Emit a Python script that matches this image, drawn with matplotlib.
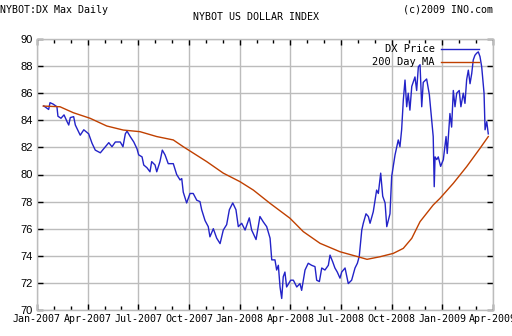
import numpy as np
import matplotlib
matplotlib.use("Agg")
import matplotlib.pyplot as plt
import matplotlib.ticker as ticker

# months since Jan-2007 (decimal) and price values
price_month = [0.40, 0.69, 0.77, 0.95, 1.18, 1.24, 1.42, 1.60, 1.78, 1.88, 1.97, 2.17, 2.27, 2.56, 2.77,
               3.06, 3.26, 3.45, 3.75, 3.95, 4.25, 4.44, 4.64, 4.93, 5.09, 5.23, 5.33, 5.52, 5.73, 5.92,
               6.02, 6.22, 6.32, 6.51, 6.69, 6.79, 6.99, 7.09, 7.28, 7.42, 7.58, 7.77, 8.07, 8.27, 8.47,
               8.57, 8.66, 8.86, 9.06, 9.25, 9.46, 9.65, 9.75, 9.95, 10.14, 10.24, 10.44, 10.64, 10.84,
               11.03, 11.23, 11.39, 11.59, 11.78, 11.92, 12.12, 12.32, 12.57, 12.71, 12.97, 13.20, 13.40,
               13.60, 13.80, 13.90, 14.09, 14.19, 14.29, 14.39, 14.49, 14.58, 14.68, 14.78, 15.02, 15.18,
               15.38, 15.57, 15.67, 15.77, 15.87, 16.06, 16.26, 16.46, 16.56, 16.72, 16.86, 17.05, 17.25,
               17.35, 17.51, 17.64, 17.78, 17.94, 18.04, 18.24, 18.43, 18.63, 18.83, 18.97, 19.08, 19.23,
               19.32, 19.48, 19.62, 19.72, 19.91, 20.11, 20.21, 20.35, 20.47, 20.61, 20.71, 20.90, 21.00,
               21.20, 21.39, 21.49, 21.59, 21.69, 21.79, 21.89, 21.98, 22.08, 22.19, 22.38, 22.48, 22.58,
               22.68, 22.78, 22.87, 23.07, 23.23, 23.37, 23.46, 23.52, 23.57, 23.67, 23.76, 23.90, 24.06,
               24.22, 24.29, 24.45, 24.55, 24.65, 24.75, 24.85, 25.00, 25.10, 25.24, 25.34, 25.44, 25.54,
               25.64, 25.74, 25.83, 25.93, 26.03, 26.13, 26.23, 26.33, 26.47, 26.53, 26.63, 26.72]
price = [85.06, 84.8, 85.3, 85.2, 85.0, 84.3, 84.15, 84.4, 83.9, 83.65, 84.2, 84.27, 83.65, 82.9, 83.3,
         83.0, 82.3, 81.8, 81.6, 81.9, 82.35, 82.05, 82.4, 82.4, 82.05, 83.0, 83.2, 82.8, 82.4, 81.9,
         81.45, 81.3, 80.7, 80.5, 80.2, 80.95, 80.7, 80.2, 80.95, 81.8, 81.45, 80.8, 80.8, 80.0, 79.6,
         79.7, 78.7, 77.9, 78.6, 78.6, 78.1, 78.0, 77.4, 76.6, 76.15, 75.4, 76.0, 75.3, 74.9,
         75.9, 76.3, 77.4, 77.9, 77.4, 76.15, 76.4, 75.9, 76.8, 75.9, 75.2, 76.9, 76.5,
         76.15, 75.3, 73.7, 73.7, 72.95, 73.3, 71.7, 70.85, 72.45, 72.8, 71.7, 72.2, 72.2,
         71.7, 71.95, 71.45, 72.2, 72.95, 73.45, 73.3, 73.2, 72.2, 72.1, 73.1, 72.95, 73.3,
         74.05, 73.55, 73.1, 72.8, 72.35, 72.8, 73.1, 71.95, 72.2, 73.1, 73.45, 73.95, 75.9,
         76.4, 77.1, 76.9, 76.4, 77.25, 78.85, 78.6, 80.1, 78.4, 77.9, 76.15, 77.1, 79.85,
         81.45, 82.55, 82.05, 83.3, 85.5, 86.97, 85.0, 86.0, 84.75, 86.5, 87.2, 86.2, 87.95,
         88.1, 85.0, 86.8, 87.05, 85.9, 84.0, 82.8, 79.1, 81.3, 81.1, 81.3, 80.6, 81.1,
         82.8, 81.55, 84.5, 83.5, 86.2, 85.0, 86.0, 86.2, 85.0, 86.0, 85.25, 87.0, 87.7,
         86.7, 87.45, 88.45, 88.8, 88.95, 89.05, 88.7, 87.95, 86.0, 83.3, 83.9, 83.0]

ma_month = [0.37, 1.36, 2.15, 3.14, 4.13, 5.11, 6.10, 7.09, 8.07, 8.66, 10.05, 11.03, 12.02, 12.81,
            13.80, 14.98, 15.77, 16.76, 17.94, 19.12, 19.54, 20.31, 21.10, 21.69, 22.19, 22.68, 23.46,
            23.86, 24.65, 25.44, 26.23, 26.72]
ma = [85.05, 85.0, 84.56, 84.15, 83.58, 83.28, 83.16, 82.8, 82.55, 82.05, 80.95, 80.1, 79.47, 78.85,
      77.87, 76.77, 75.78, 74.92, 74.3, 73.89, 73.74, 73.93, 74.18, 74.55, 75.29, 76.52, 77.75,
      78.24, 79.35, 80.58, 81.93, 82.8]

quarter_labels = ["Jan-2007", "Apr-2007", "Jul-2007", "Oct-2007", "Jan-2008",
                  "Apr-2008", "Jul-2008", "Oct-2008", "Jan-2009", "Apr-2009"]

mono = "DejaVu Sans Mono"
grid_col = "#bcbcbc"

fig = plt.figure(figsize=(5.12, 3.36), dpi=100)
ax = fig.add_axes([37 / 512, 1 - 310 / 336, 456 / 512, 271 / 336])

ax.plot(price_month, price, color="#2323c8", lw=1.0, label="DX Price")
ax.plot(ma_month, ma, color="#c04000", lw=1.0, label="200 Day MA")

ax.set_xlim(0, 27)
ax.set_ylim(70, 90)
ax.xaxis.set_minor_locator(ticker.MultipleLocator(1))
ax.set_xticks(np.arange(0, 28, 3))
ax.set_xticklabels(quarter_labels, fontfamily=mono, fontsize=7.2)
ax.set_yticks(np.arange(70, 91, 2))
ax.set_yticklabels([str(v) for v in range(70, 91, 2)], fontfamily="Liberation Sans", fontsize=8)

ax.grid(True, which="major", color=grid_col, lw=1.0)
ax.set_axisbelow(True)
for s in ax.spines.values():
    s.set_color(grid_col)
    s.set_linewidth(1.0)
ax.tick_params(axis="both", which="both", direction="in", top=True, right=True,
               color="black", width=1.0)
ax.tick_params(axis="both", which="major", length=4, pad=3)
ax.tick_params(axis="x", which="minor", length=3)
ax.tick_params(axis="y", which="minor", length=0)

leg = ax.legend(loc="upper right", frameon=False, markerfirst=False,
                prop={"family": mono, "size": 7.5}, handlelength=3.6,
                handletextpad=0.6, labelspacing=0.3, borderaxespad=0.1,
                bbox_to_anchor=(0.98, 1.0))

fig.text(0.0, 1 - 10 / 336, "NYBOT:DX Max Daily", fontfamily=mono, fontsize=7.2, va="center", ha="left")
fig.text(493 / 512, 1 - 10 / 336, "(c)2009 INO.com", fontfamily=mono, fontsize=7.2, va="center", ha="right")
fig.text(0.5, 1 - 17 / 336, "NYBOT US DOLLAR INDEX", fontfamily=mono, fontsize=7.2, va="center", ha="center")

fig.savefig("out.png", dpi=100, facecolor="white")
